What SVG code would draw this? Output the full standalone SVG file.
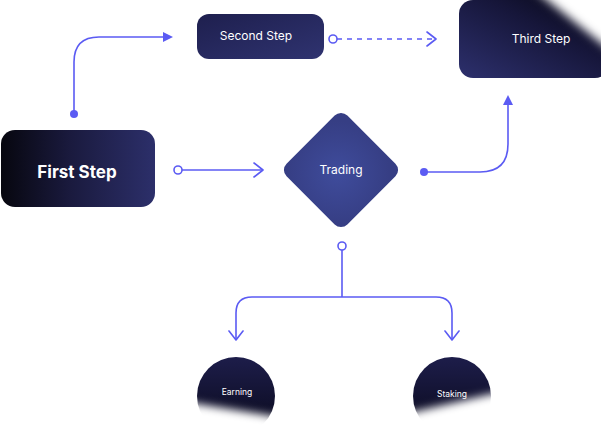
<svg xmlns="http://www.w3.org/2000/svg" width="601" height="435" viewBox="0 0 601 435">
<defs>
<linearGradient id="gFirst" x1="0" y1="0" x2="1" y2="0">
<stop offset="0" stop-color="#07070f"/><stop offset="0.45" stop-color="#1a1a3e"/><stop offset="1" stop-color="#2c2f6a"/>
</linearGradient>
<linearGradient id="gSecond" x1="0" y1="0" x2="1" y2="1">
<stop offset="0" stop-color="#1e1f4e"/><stop offset="1" stop-color="#2f3370"/>
</linearGradient>
<linearGradient id="gThird" x1="0" y1="1" x2="1" y2="0">
<stop offset="0" stop-color="#2d306d"/><stop offset="0.6" stop-color="#16163a"/><stop offset="1" stop-color="#050510"/>
</linearGradient>
<radialGradient id="gDiamond" cx="0.5" cy="0.55" r="0.6">
<stop offset="0" stop-color="#3f4c9c"/><stop offset="1" stop-color="#363e84"/>
</radialGradient>
<linearGradient id="gCircle" x1="0" y1="0" x2="0" y2="1">
<stop offset="0" stop-color="#1d1d4a"/><stop offset="1" stop-color="#09091a"/>
</linearGradient>
<filter id="blur" x="-50%" y="-50%" width="200%" height="200%"><feGaussianBlur stdDeviation="5"/></filter>
<filter id="blur2" x="-50%" y="-50%" width="200%" height="200%"><feGaussianBlur stdDeviation="4"/></filter>
<marker id="tri" viewBox="0 0 10 10" refX="5" refY="5" markerWidth="10" markerHeight="10" markerUnits="userSpaceOnUse" orient="auto">
<path d="M0,0 L10,5 L0,10 z" fill="#5b5bf3"/>
</marker>
<marker id="chev" viewBox="0 0 12 16" refX="11" refY="8" markerWidth="12" markerHeight="16" markerUnits="userSpaceOnUse" orient="auto">
<path d="M2,1 L11,8 L2,15" fill="none" stroke="#5b5bf3" stroke-width="1.6" stroke-linecap="round" stroke-linejoin="round"/>
</marker>
</defs>
<style>
.ln{fill:none;stroke:#5b5bf3;stroke-width:1.6}
.dot{fill:#5b5bf3}
.ring{fill:#fff;stroke:#5b5bf3;stroke-width:1.6}
.t{font-family:Inter,"Noto Sans",sans-serif;fill:#fff;text-anchor:middle}
.fade{fill:#fff}
</style>
<rect width="601" height="435" fill="#fff"/>
<g id="connectors">
<path class="ln" d="M74,114 V62 Q74,37 99,37 H168" marker-end="url(#tri)"/>
<circle class="dot" cx="74" cy="114" r="4"/>
<path class="ln" d="M337,39 H436" stroke-dasharray="5,5" marker-end="url(#chev)"/>
<circle class="ring" cx="333" cy="39" r="4"/>
<path class="ln" d="M182,170 H263" marker-end="url(#chev)"/>
<circle class="ring" cx="178" cy="170" r="4"/>
<path class="ln" d="M424,172 H480 Q508,172 508,144 V100" marker-end="url(#tri)"/>
<circle class="dot" cx="424" cy="172" r="4"/>
<path class="ln" d="M342,250 V297"/>
<path class="ln" d="M342,297 H252 Q236,297 236,313 V340" marker-end="url(#chev)"/>
<path class="ln" d="M342,297 H436 Q452,297 452,313 V340" marker-end="url(#chev)"/>
<circle class="ring" cx="342" cy="246" r="4"/>
</g>
<g id="first-step">
<rect x="1" y="130" width="154" height="77" rx="14" fill="url(#gFirst)"/>
<text class="t" x="77" y="178" font-size="17" font-weight="700">First Step</text>
</g>
<g id="second-step">
<rect x="197" y="14" width="127" height="45" rx="12" fill="url(#gSecond)"/>
<text class="t" x="256" y="40" font-size="12">Second Step</text>
</g>
<g id="third-step">
<rect x="459" y="0" width="150" height="78" rx="14" fill="url(#gThird)"/>
<polygon class="fade" points="522,-20 660,-20 660,90" filter="url(#blur)"/>
<text class="t" x="541" y="43" font-size="12">Third Step</text>
</g>
<g id="trading">
<rect x="298" y="127" width="86" height="86" rx="9" fill="url(#gDiamond)" transform="rotate(45 341 170)"/>
<text class="t" x="341" y="174" font-size="12">Trading</text>
</g>
<g id="earning">
<circle cx="236" cy="396" r="39" fill="url(#gCircle)"/>
<polygon class="fade" points="186,402 285,418 285,445 186,445" filter="url(#blur2)"/>
<text class="t" x="237" y="395" font-size="8.5">Earning</text>
</g>
<g id="staking">
<circle cx="452" cy="396" r="39" fill="url(#gCircle)"/>
<polygon class="fade" points="405,414 500,392 500,445 405,445" filter="url(#blur2)"/>
<text class="t" x="452" y="397" font-size="8.5">Staking</text>
</g>
</svg>
